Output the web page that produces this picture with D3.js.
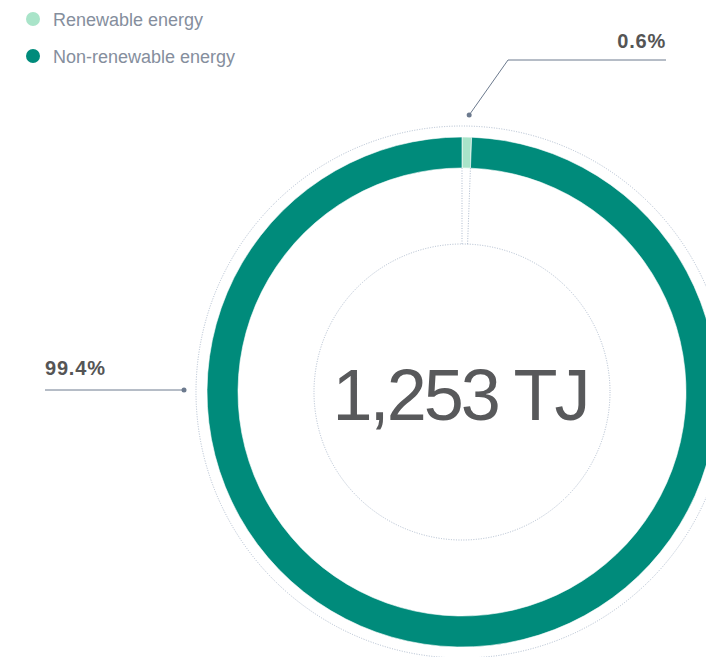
<!DOCTYPE html>
<html><head><meta charset="utf-8">
<script src="https://cdn.jsdelivr.net/npm/d3@7"></script>
<style>
html,body{margin:0;padding:0;background:#fff;overflow:hidden;}
svg{display:block;font-family:"Liberation Sans",Arial,sans-serif;}
</style></head>
<body>
<svg id="chart" width="706" height="657"></svg>
<script>
const categories = ["Renewable energy", "Non-renewable energy"];
const values = [0.6, 99.4];
const labels = ["0.6%", "99.4%"];
const totalLabel = "1,253 TJ";
const colors = ["#a9e4c9", "#008b7b"];

const svg = d3.select("#chart");
const cx = 462, cy = 392;
const rOuter = 255, rInner = 224, rDotOuter = 266, rDotInner = 148, rPointer = 277;

// legend
const legend = svg.append("g");
categories.forEach((c, i) => {
  const g = legend.append("g").attr("transform", `translate(33,${19 + i * 37})`);
  g.append("circle").attr("r", 7).attr("fill", colors[i]);
  g.append("text").attr("x", 20).attr("y", 6.5).attr("font-size", 18)
    .attr("fill", "#858e9d").text(c);
});

const root = svg.append("g").attr("transform", `translate(${cx},${cy})`);

const guide = "#aebbcd";
// dotted guide circles
[rDotOuter, rDotInner].forEach(r => {
  root.append("circle").attr("r", r).attr("fill", "none")
    .attr("stroke", guide).attr("stroke-width", 1).attr("stroke-dasharray", "1,1.5");
});

const pie = d3.pie().sort(null).value(d => d)(values);
const arc = d3.arc().innerRadius(rInner).outerRadius(rOuter);

root.selectAll("path.slice").data(pie).join("path").attr("class", "slice")
  .attr("d", arc).attr("fill", (d, i) => colors[i])
  .attr("stroke", "#fff").attr("stroke-width", 0.6);

// radial dotted lines for small slice
const small = pie[0];
[small.startAngle, small.endAngle].forEach(a => {
  root.append("line")
    .attr("x1", Math.sin(a) * rInner).attr("y1", -Math.cos(a) * rInner)
    .attr("x2", Math.sin(a) * rDotInner).attr("y2", -Math.cos(a) * rDotInner)
    .attr("stroke", guide).attr("stroke-dasharray", "1,1.5");
});

// leader lines
const lineColor = "#6c7a8e";
// small slice label (top right)
{
  const a = (small.startAngle + small.endAngle) / 2 + 0.007;
  const px = Math.sin(a) * rPointer, py = -Math.cos(a) * rPointer;
  const ex = 508 - cx, ey = 60 - cy, hx = 666 - cx;
  root.append("polyline").attr("points", `${px},${py} ${ex},${ey} ${hx},${ey}`)
    .attr("fill", "none").attr("stroke", lineColor).attr("stroke-width", 1);
  root.append("circle").attr("cx", px).attr("cy", py).attr("r", 2.5).attr("fill", lineColor);
  root.append("text").attr("x", hx).attr("y", ey - 12).attr("text-anchor", "end")
    .attr("font-size", 20).attr("letter-spacing", 0.8).attr("font-weight", "bold").attr("fill", "#555").text(labels[0]);
}
// large slice label (left)
{
  const a = -Math.PI / 2;
  const px = Math.sin(a) * (rPointer + 1), py = -Math.cos(a) * rPointer - 2;
  const hx = 45 - cx;
  root.append("line").attr("x1", px).attr("y1", py).attr("x2", hx).attr("y2", py)
    .attr("stroke", lineColor).attr("stroke-width", 1);
  root.append("circle").attr("cx", px).attr("cy", py).attr("r", 2.5).attr("fill", lineColor);
  root.append("text").attr("x", hx).attr("y", py - 15).attr("text-anchor", "start")
    .attr("font-size", 20).attr("letter-spacing", 0.8).attr("font-weight", "bold").attr("fill", "#555").text(labels[1]);
}

// center total
root.append("text").attr("x", -2).attr("y", 28).attr("text-anchor", "middle")
  .attr("font-size", 72).attr("letter-spacing", -3).attr("fill", "#58595b").text(totalLabel);
</script>
</body></html>
